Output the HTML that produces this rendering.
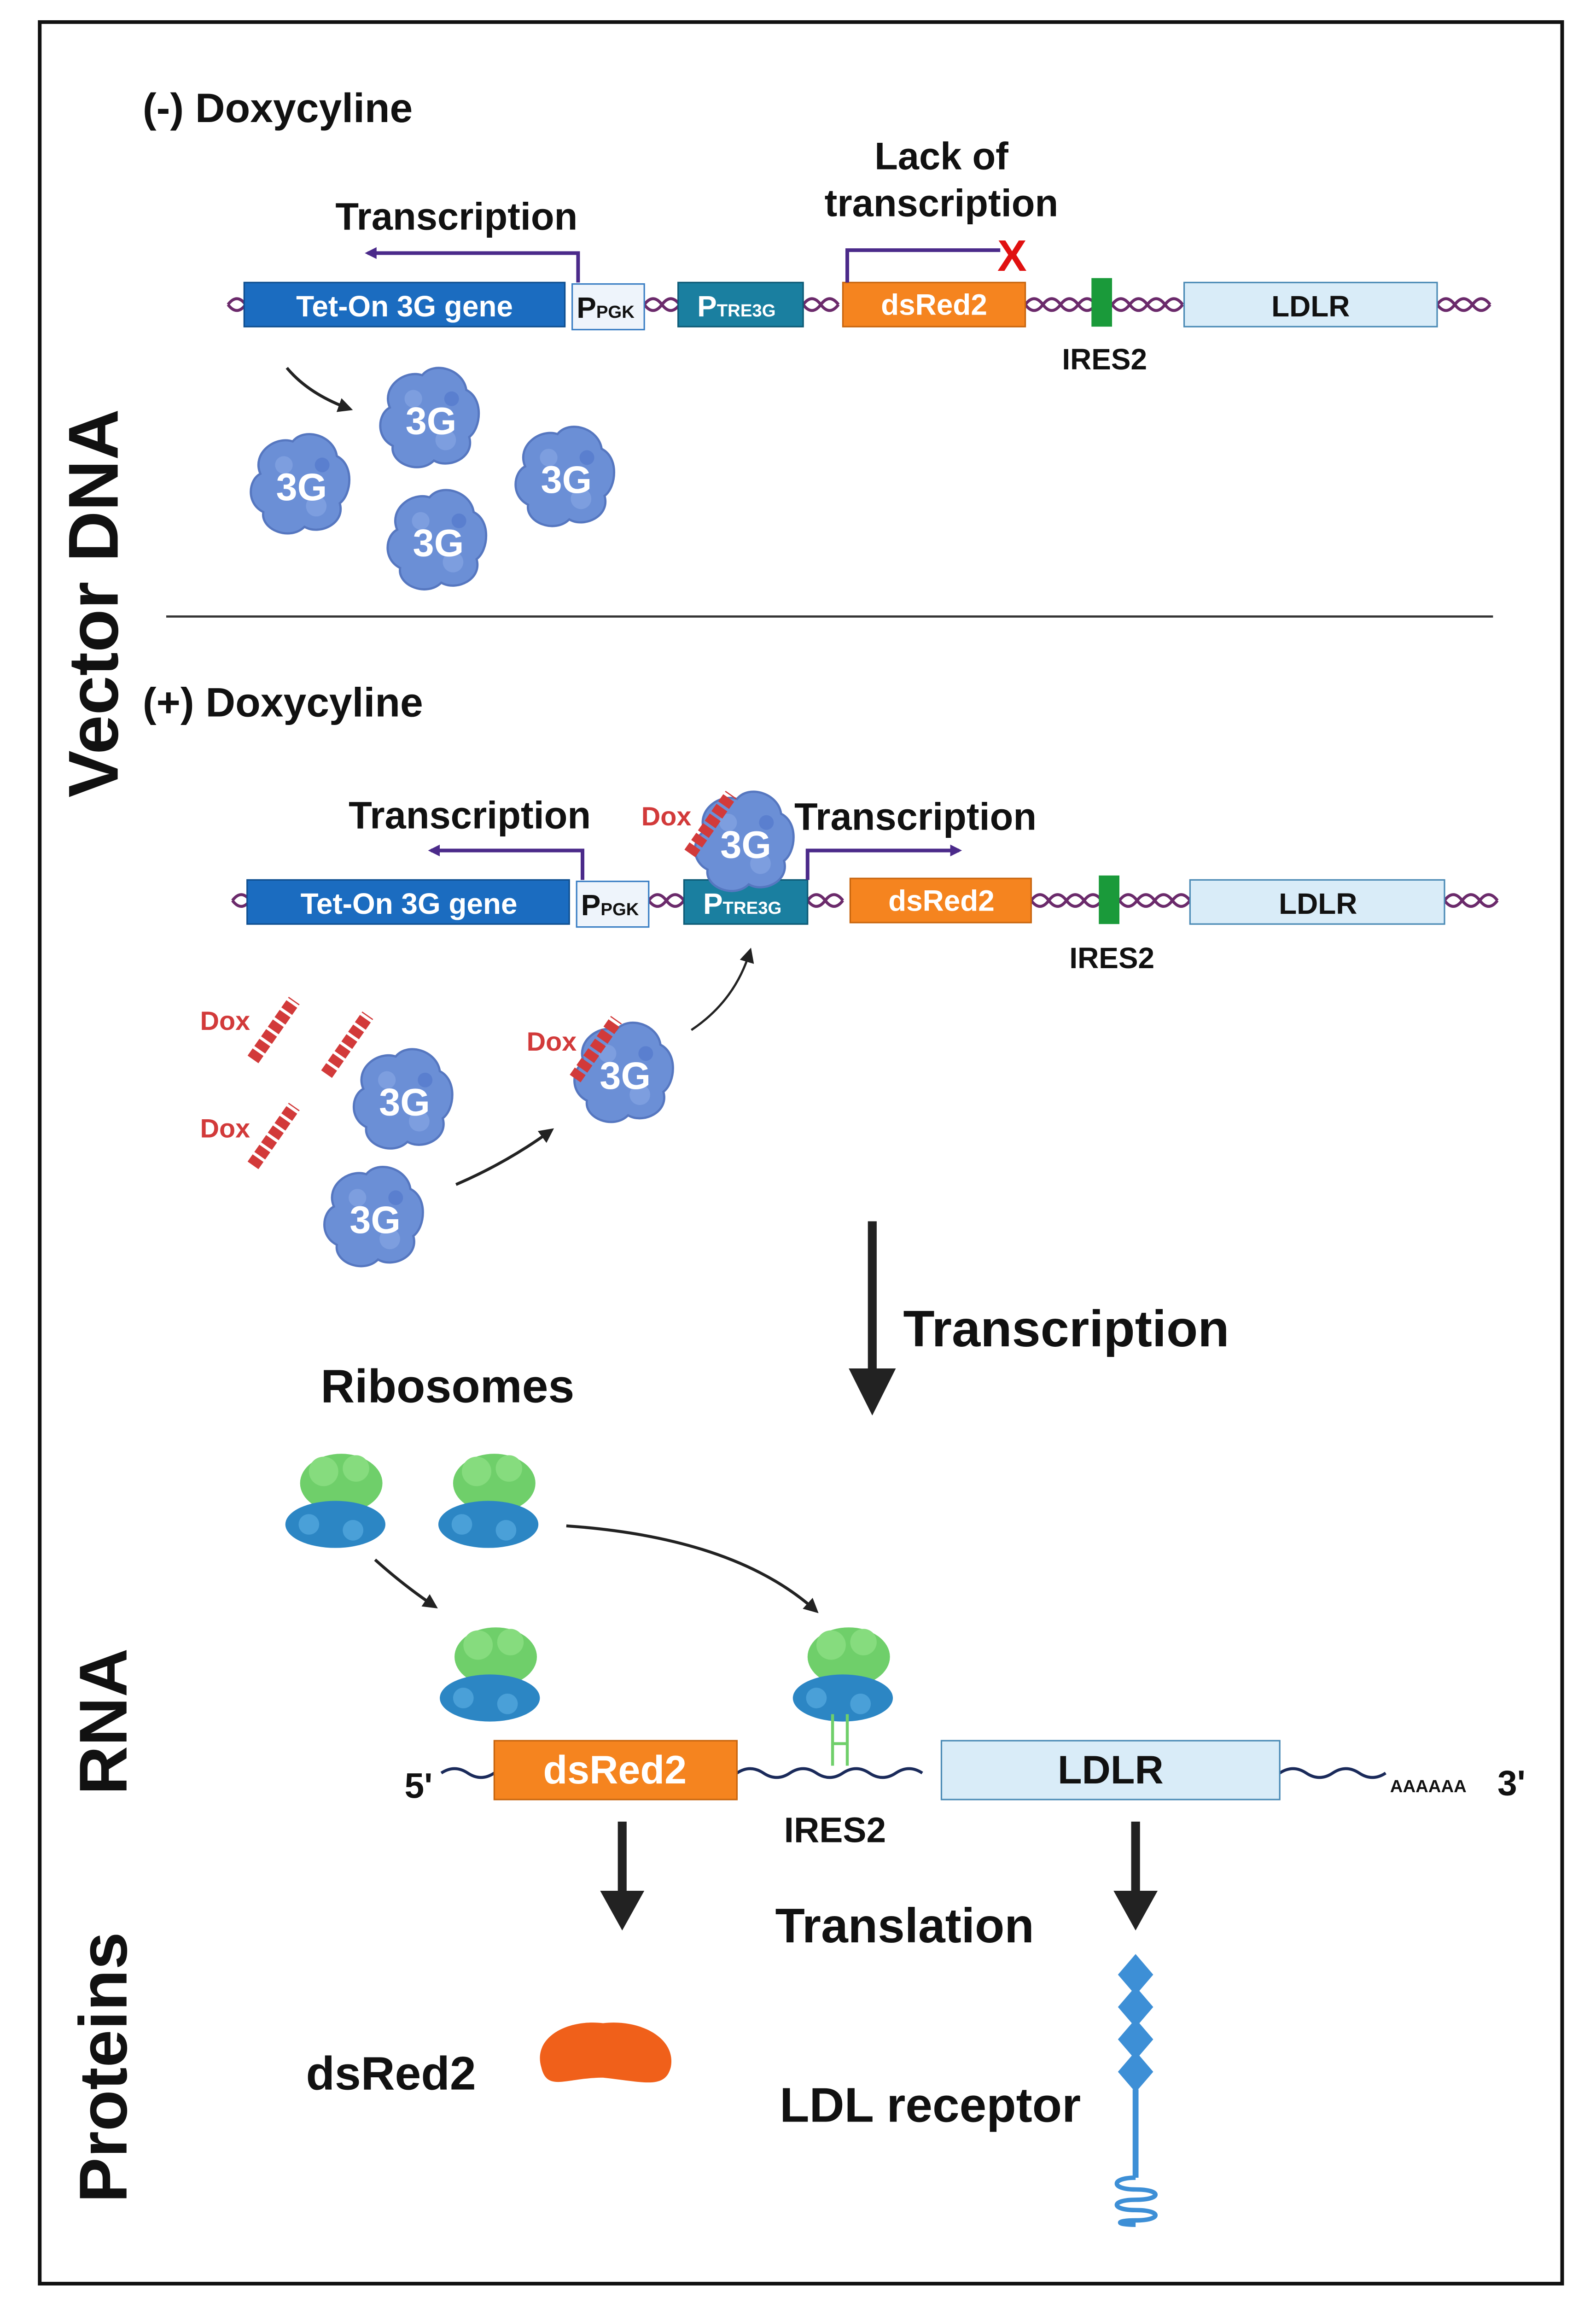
<!DOCTYPE html>
<html><head><meta charset="utf-8"><style>
html,body{margin:0;padding:0;background:#fff;overflow:hidden;width:3466px;height:5057px}
svg{display:block}
text{font-family:"Liberation Sans",sans-serif;font-weight:bold}
</style></head><body>
<svg width="3466" height="5057" viewBox="0 0 1085 1583" preserveAspectRatio="none" xmlns="http://www.w3.org/2000/svg">
<defs>
<marker id="ap" markerWidth="8" markerHeight="8" refX="6" refY="4" orient="auto" markerUnits="userSpaceOnUse"><path d="M0,0 L8,4 L0,8 z" fill="#4b2a8a"/></marker>
<marker id="ak" markerWidth="10" markerHeight="10" refX="8" refY="5" orient="auto" markerUnits="userSpaceOnUse"><path d="M0,0 L10,5 L0,10 z" fill="#222"/></marker>
<g id="p3g">
<path d="M-28,-8 C-34,-22 -18,-34 -6,-30 C2,-40 22,-34 24,-20 C36,-14 34,6 26,12 C30,26 12,34 2,28 C-8,38 -28,30 -26,18 C-38,12 -36,-4 -28,-8 Z" fill="#6b8fd6" stroke="#5677c0" stroke-width="1.5"/>
<circle cx="-12" cy="-14" r="6" fill="#7d9edf"/><circle cx="10" cy="14" r="7" fill="#7d9edf"/><circle cx="14" cy="-14" r="5" fill="#5a7fcf"/>
<text x="0" y="10" font-size="26" fill="#fff" text-anchor="middle">3G</text>
</g>
<g id="dox">
<path d="M-14,20 L14,-20" stroke="#d23a3a" stroke-width="9" stroke-dasharray="6 2"/>
</g>
<g id="ribo">
<ellipse cx="4" cy="-14" rx="28" ry="20" fill="#6fcf6a"/>
<circle cx="-8" cy="-22" r="10" fill="#86dc7e"/><circle cx="14" cy="-24" r="9" fill="#86dc7e"/>
<ellipse cx="0" cy="14" rx="34" ry="16" fill="#2c86c4"/>
<circle cx="-18" cy="14" r="7" fill="#4aa0d8"/><circle cx="12" cy="18" r="7" fill="#4aa0d8"/>
</g>
</defs>

<rect x="27" y="15" width="1035" height="1537" fill="none" stroke="#111" stroke-width="2.5"/>

<text transform="translate(80,410) rotate(-90)" font-size="48" text-anchor="middle" fill="#111">Vector DNA</text>
<text transform="translate(86,1170) rotate(-90)" font-size="46" text-anchor="middle" fill="#111">RNA</text>
<text transform="translate(86,1405) rotate(-90)" font-size="46" text-anchor="middle" fill="#111">Proteins</text>

<!-- (-) section -->
<text x="97" y="83" font-size="28" fill="#111">(-) Doxycyline</text>
<path d="M155,207 q6,-8 12,0 M438,207 q6,-8 12,0 t12,0 M546,207 q6,-8 12,0 t12,0 M697,207 q6,-8 12,0 t12,0 t12,0 t12,0 M756,207 q6,-8 12,0 t12,0 t12,0 t12,0 M977,207 q6,-8 12,0 t12,0 t12,0" fill="none" stroke="#6b2a6b" stroke-width="2"/>
<path d="M155,207 q6,8 12,0 M438,207 q6,8 12,0 t12,0 M546,207 q6,8 12,0 t12,0 M697,207 q6,8 12,0 t12,0 t12,0 t12,0 M756,207 q6,8 12,0 t12,0 t12,0 t12,0 M977,207 q6,8 12,0 t12,0 t12,0" fill="none" stroke="#6b2a6b" stroke-width="2"/>
<rect x="166" y="192" width="218" height="30" fill="#1b6cc0" stroke="#0f4f90"/>
<text x="275" y="215" font-size="20" fill="#fff" text-anchor="middle">Tet-On 3G gene</text>
<rect x="389" y="193" width="49" height="31" fill="#eef4fb" stroke="#3b7fc4"/>
<text x="392" y="216" font-size="20" fill="#111">P<tspan font-size="12">PGK</tspan></text>
<rect x="461" y="192" width="85" height="30" fill="#1a7fa0" stroke="#0d5a75"/>
<text x="474" y="215" font-size="20" fill="#fff">P<tspan font-size="12">TRE3G</tspan></text>
<rect x="573" y="192" width="124" height="30" fill="#f5841f" stroke="#c8650e"/>
<text x="635" y="214" font-size="20" fill="#fff" text-anchor="middle">dsRed2</text>
<rect x="742" y="189" width="14" height="33" fill="#1a9a3a"/>
<rect x="805" y="192" width="172" height="30" fill="#d9ecf8" stroke="#4a8ab5"/>
<text x="891" y="215" font-size="20" fill="#111" text-anchor="middle">LDLR</text>
<text x="722" y="251" font-size="20" fill="#111">IRES2</text>
<text x="228" y="156" font-size="26" fill="#111">Transcription</text>
<path d="M393,192 V172 H250" fill="none" stroke="#4b2a8a" stroke-width="2.5" marker-end="url(#ap)"/>
<text x="640" y="115" font-size="26" fill="#111" text-anchor="middle">Lack of</text>
<text x="640" y="147" font-size="26" fill="#111" text-anchor="middle">transcription</text>
<path d="M576,192 V170 H680" fill="none" stroke="#4b2a8a" stroke-width="2.5"/>
<text x="688" y="184" font-size="30" fill="#e01010" text-anchor="middle">X</text>
<path d="M195,250 Q210,268 238,278" fill="none" stroke="#222" stroke-width="2" marker-end="url(#ak)"/>
<use href="#p3g" x="293" y="285"/><use href="#p3g" x="205" y="330"/><use href="#p3g" x="385" y="325"/><use href="#p3g" x="298" y="368"/>

<line x1="113" y1="419" x2="1015" y2="419" stroke="#333" stroke-width="1.5"/>

<!-- (+) section -->
<text x="97" y="487" font-size="28" fill="#111">(+) Doxycyline</text>
<path d="M158,612 q6,-8 12,0 M441,612 q6,-8 12,0 t12,0 M549,612 q6,-8 12,0 t12,0 M701,612 q6,-8 12,0 t12,0 t12,0 t12,0 M761,612 q6,-8 12,0 t12,0 t12,0 t12,0 M982,612 q6,-8 12,0 t12,0 t12,0" fill="none" stroke="#6b2a6b" stroke-width="2"/>
<path d="M158,612 q6,8 12,0 M441,612 q6,8 12,0 t12,0 M549,612 q6,8 12,0 t12,0 M701,612 q6,8 12,0 t12,0 t12,0 t12,0 M761,612 q6,8 12,0 t12,0 t12,0 t12,0 M982,612 q6,8 12,0 t12,0 t12,0" fill="none" stroke="#6b2a6b" stroke-width="2"/>
<rect x="168" y="598" width="219" height="30" fill="#1b6cc0" stroke="#0f4f90"/>
<text x="278" y="621" font-size="20" fill="#fff" text-anchor="middle">Tet-On 3G gene</text>
<rect x="392" y="599" width="49" height="31" fill="#eef4fb" stroke="#3b7fc4"/>
<text x="395" y="622" font-size="20" fill="#111">P<tspan font-size="12">PGK</tspan></text>
<rect x="465" y="598" width="84" height="30" fill="#1a7fa0" stroke="#0d5a75"/>
<text x="478" y="621" font-size="20" fill="#fff">P<tspan font-size="12">TRE3G</tspan></text>
<rect x="578" y="597" width="123" height="30" fill="#f5841f" stroke="#c8650e"/>
<text x="640" y="619" font-size="20" fill="#fff" text-anchor="middle">dsRed2</text>
<rect x="747" y="595" width="14" height="33" fill="#1a9a3a"/>
<rect x="809" y="598" width="173" height="30" fill="#d9ecf8" stroke="#4a8ab5"/>
<text x="896" y="621" font-size="20" fill="#111" text-anchor="middle">LDLR</text>
<text x="727" y="658" font-size="20" fill="#111">IRES2</text>
<text x="237" y="563" font-size="26" fill="#111">Transcription</text>
<path d="M396,598 V578 H293" fill="none" stroke="#4b2a8a" stroke-width="2.5" marker-end="url(#ap)"/>
<text x="540" y="564" font-size="26" fill="#111">Transcription</text>
<path d="M549,598 V578 H652" fill="none" stroke="#4b2a8a" stroke-width="2.5" marker-end="url(#ap)"/>
<use href="#p3g" x="507" y="573"/>
<use href="#dox" x="483" y="560"/>
<text x="436" y="561" font-size="18" fill="#d23a3a">Dox</text>

<text x="136" y="700" font-size="18" fill="#d23a3a">Dox</text>
<use href="#dox" x="186" y="700"/>
<use href="#dox" x="236" y="710"/>
<text x="136" y="773" font-size="18" fill="#d23a3a">Dox</text>
<use href="#dox" x="186" y="772"/>
<use href="#p3g" x="275" y="748"/><use href="#p3g" x="255" y="828"/>
<use href="#p3g" x="425" y="730"/>
<use href="#dox" x="405" y="713"/>
<text x="358" y="714" font-size="18" fill="#d23a3a">Dox</text>
<path d="M310,805 Q345,790 375,768" fill="none" stroke="#222" stroke-width="2" marker-end="url(#ak)"/>
<path d="M470,700 Q500,680 510,646" fill="none" stroke="#222" stroke-width="1.5" marker-end="url(#ak)"/>

<line x1="593" y1="830" x2="593" y2="935" stroke="#222" stroke-width="6"/>
<path d="M577,930 L609,930 L593,962 Z" fill="#222"/>
<text x="614" y="915" font-size="35" fill="#111">Transcription</text>

<text x="218" y="953" font-size="32" fill="#111">Ribosomes</text>
<use href="#ribo" x="228" y="1022"/><use href="#ribo" x="332" y="1022"/>
<use href="#ribo" x="333" y="1140"/><use href="#ribo" x="573" y="1140"/>
<path d="M255,1060 Q275,1078 296,1092" fill="none" stroke="#222" stroke-width="2" marker-end="url(#ak)"/>
<path d="M385,1037 Q500,1045 555,1095" fill="none" stroke="#222" stroke-width="2" marker-end="url(#ak)"/>

<path d="M300,1205 q9,-6 18,0 t18,0 M501,1205 q9,-6 18,0 t18,0 t18,0 t18,0 t18,0 t18,0 t18,0 M870,1205 q9,-6 18,0 t18,0 t18,0 t18,0" fill="none" stroke="#1a2a5a" stroke-width="2"/>
<path d="M566,1165 V1200 M576,1165 V1200 M566,1185 H576" stroke="#6fcf6a" stroke-width="2" fill="none"/>
<text x="275" y="1222" font-size="24" fill="#111">5'</text>
<rect x="336" y="1183" width="165" height="40" fill="#f5841f" stroke="#c8650e"/>
<text x="418" y="1212" font-size="27" fill="#fff" text-anchor="middle">dsRed2</text>
<rect x="640" y="1183" width="230" height="40" fill="#d9ecf8" stroke="#4a8ab5"/>
<text x="755" y="1212" font-size="27" fill="#111" text-anchor="middle">LDLR</text>
<text x="945" y="1218" font-size="12" fill="#111" font-weight="normal">AAAAAA</text>
<text x="1018" y="1220" font-size="24" fill="#111">3'</text>
<text x="533" y="1252" font-size="24" fill="#111">IRES2</text>

<line x1="423" y1="1238" x2="423" y2="1290" stroke="#222" stroke-width="6"/>
<path d="M408,1285 L438,1285 L423,1312 Z" fill="#222"/>
<line x1="772" y1="1238" x2="772" y2="1290" stroke="#222" stroke-width="6"/>
<path d="M757,1285 L787,1285 L772,1312 Z" fill="#222"/>
<text x="527" y="1320" font-size="33" fill="#111">Translation</text>

<text x="208" y="1420" font-size="32" fill="#111">dsRed2</text>
<path d="M368,1405 C362,1385 385,1372 410,1375 C435,1372 460,1385 456,1405 C452,1420 438,1415 410,1412 C385,1412 372,1422 368,1405 Z" fill="#f0601a"/>
<text x="530" y="1442" font-size="33" fill="#111">LDL receptor</text>
<g fill="#3d8fd6">
<path d="M772,1328 L784,1342 L772,1356 L760,1342 Z"/>
<path d="M772,1350 L784,1364 L772,1378 L760,1364 Z"/>
<path d="M772,1372 L784,1386 L772,1400 L760,1386 Z"/>
<path d="M772,1394 L784,1408 L772,1422 L760,1408 Z"/>
</g>
<line x1="772" y1="1420" x2="772" y2="1480" stroke="#3d8fd6" stroke-width="4"/>
<path d="M772,1480 C755,1480 755,1488 772,1488 C790,1488 790,1495 772,1495 C755,1495 755,1502 772,1502 C790,1502 790,1509 772,1509 C758,1509 758,1512 772,1512" fill="none" stroke="#3d8fd6" stroke-width="3"/>
</svg>
</body></html>
